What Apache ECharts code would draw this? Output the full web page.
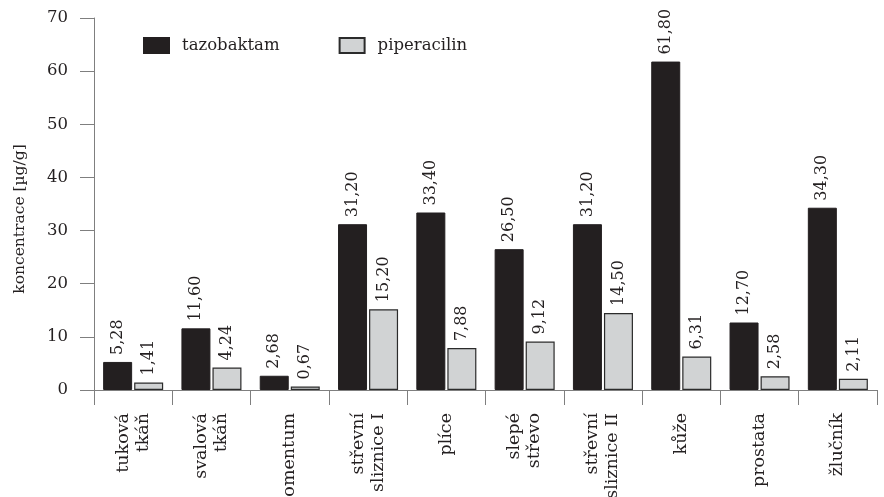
<!DOCTYPE html>
<html>
<head>
<meta charset="utf-8">
<script src="https://cdn.jsdelivr.net/npm/echarts@6/dist/echarts.min.js"></script>
<style>
  html, body { margin: 0; padding: 0; background: #fff; }
  #chart { width: 884px; height: 497px; }
</style>
</head>
<body>
<div id="chart"></div>
<script>
// Tissue names (line breaks as printed under the axis)
const categories = [
  'tuková\ntkáň', 'svalová\ntkáň', 'omentum', 'střevní\nsliznice I', 'plíce',
  'slepé\nstřevo', 'střevní\nsliznice II', 'kůže', 'prostata', 'žlučník'
];
// Concentrations in µg/g
const tazobaktam = [5.28, 11.60, 2.68, 31.20, 33.40, 26.50, 31.20, 61.80, 12.70, 34.30];
const piperacilin = [1.41, 4.24, 0.67, 15.20, 7.88, 9.12, 14.50, 6.31, 2.58, 2.11];
const yTicks = [0, 10, 20, 30, 40, 50, 60, 70];

const FONT = 'DejaVu Serif';
const INK = '#231f20';
const AXIS = '#7f7f7f';

const fmt = v => v.toFixed(2).replace('.', ',');

const valueLabel = {
  show: true,
  position: 'top',
  rotate: 90,
  align: 'left',
  verticalAlign: 'middle',
  distance: 7,
  fontFamily: FONT,
  fontSize: 16,
  color: INK,
  formatter: p => fmt(p.value)
};

const chart = echarts.init(document.getElementById('chart'), null, { renderer: 'canvas' });
chart.setOption({
  animation: false,
  backgroundColor: '#fff',
  textStyle: { fontFamily: FONT },
  grid: { left: 94, right: 7, top: 18, bottom: 107, containLabel: false, outerBoundsMode: 'none' },
  legend: {
    left: 143,
    top: 37,
    padding: 0,
    icon: 'rect',
    itemWidth: 25,
    itemHeight: 15,
    itemGap: 59,
    textStyle: { fontFamily: FONT, fontSize: 16.5, color: INK, padding: [0, 0, 0, 8] },
    data: ['tazobaktam', 'piperacilin']
  },
  xAxis: {
    type: 'category',
    data: categories,
    axisLine: { lineStyle: { color: AXIS, width: 1 } },
    axisTick: { show: true, length: 15, lineStyle: { color: AXIS, width: 1 } },
    axisLabel: {
      rotate: 90,
      margin: 23,
      interval: 0,
      fontFamily: FONT,
      fontSize: 17.5,
      lineHeight: 20,
      color: INK
    }
  },
  yAxis: {
    type: 'value',
    min: yTicks[0],
    max: yTicks[yTicks.length - 1],
    interval: 10,
    name: 'koncentrace [µg/g]',
    nameLocation: 'middle',
    nameGap: 66,
    nameRotate: 90,
    nameTextStyle: { fontFamily: FONT, fontSize: 15.5, color: INK, padding: [0, 30, 0, 0] },
    splitLine: { show: false },
    axisLine: { show: true, lineStyle: { color: AXIS, width: 1 } },
    axisTick: { show: true, length: 14, lineStyle: { color: AXIS, width: 1 } },
    axisLabel: { margin: 26, fontFamily: FONT, fontSize: 16.5, color: INK }
  },
  series: [
    {
      name: 'tazobaktam',
      type: 'bar',
      data: tazobaktam,
      barWidth: 29,
      barGap: '7%',
      itemStyle: { color: INK, borderColor: INK, borderWidth: 1 },
      label: valueLabel
    },
    {
      name: 'piperacilin',
      type: 'bar',
      data: piperacilin,
      barWidth: 29,
      itemStyle: { color: '#d1d3d4', borderColor: '#2b2b2b', borderWidth: 1.2 },
      label: valueLabel
    }
  ]
});
</script>
</body>
</html>
